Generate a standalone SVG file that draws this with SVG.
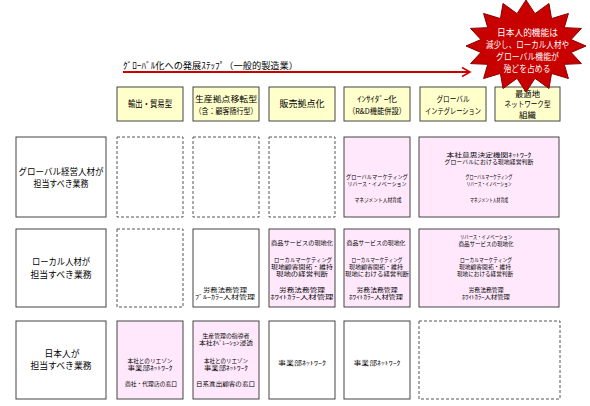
<svg xmlns="http://www.w3.org/2000/svg" width="590" height="406" viewBox="0 0 590 406">
<style>
text{font-family:"Noto Sans CJK JP","Noto Sans",sans-serif;fill:#000;text-anchor:middle}
.hd{fill:#ffffcc;stroke:#444;stroke-width:1}
.lb{fill:#fff;stroke:#444;stroke-width:1}
.so{fill:#fff;stroke:#444;stroke-width:1}
.pk{fill:#ffe8fc;stroke:#444;stroke-width:1}
.da{fill:#fff;stroke:#555;stroke-width:1;stroke-dasharray:3 2}
.h{font-size:9px}
.h2{font-size:8px}
.h6{font-size:8px}
.l{font-size:9px}
.c{font-size:5.5px}
.s{font-size:9px;fill:#fff}
</style>
<g id="connectors">
<text x="123" y="68.5" style="text-anchor:start;font-size:9px" textLength="175" lengthAdjust="spacingAndGlyphs">ｸﾞﾛｰﾊﾞﾙ化への発展ｽﾃｯﾌﾟ（一般的製造業）</text>
<line x1="123" y1="72" x2="469" y2="72" stroke="#cc0000" stroke-width="2"/>
<polyline points="462,67.5 470,72 462,76.5" fill="none" stroke="#cc0000" stroke-width="1.6"/>
</g>
<g id="h1"><rect class="hd" x="117" y="87" width="66" height="34"/><text class="h" x="150" y="107" textLength="44" lengthAdjust="spacingAndGlyphs">輸出・貿易型</text></g>
<g id="h2"><rect class="hd" x="193" y="87" width="66" height="34"/><text class="h2" x="226" y="102" textLength="62" lengthAdjust="spacingAndGlyphs">生産拠点移転型</text><text class="h2" x="226" y="113.5" textLength="63" lengthAdjust="spacingAndGlyphs">（含：顧客随行型）</text></g>
<g id="h3"><rect class="hd" x="269" y="87" width="66" height="34"/><text class="h" x="302" y="107" textLength="45" lengthAdjust="spacingAndGlyphs">販売拠点化</text></g>
<g id="h4"><rect class="hd" x="344" y="87" width="66" height="34"/><text class="h2" x="377" y="102" textLength="40" lengthAdjust="spacingAndGlyphs">ｲﾝｻｲﾀﾞｰ化</text><text class="h2" x="377" y="113.5" textLength="58" lengthAdjust="spacingAndGlyphs">（R&amp;D機能併設）</text></g>
<g id="h5"><rect class="hd" x="420" y="87" width="66" height="34"/><text class="h2" x="453" y="102" textLength="33" lengthAdjust="spacingAndGlyphs">グローバル</text><text class="h2" x="453" y="113.5" textLength="56" lengthAdjust="spacingAndGlyphs">インテグレーション</text></g>
<g id="h6"><rect class="hd" x="495" y="87" width="65" height="34"/><text class="h6" x="527.5" y="97" textLength="25" lengthAdjust="spacingAndGlyphs">最適地</text><text class="h6" x="527.5" y="107" textLength="46" lengthAdjust="spacingAndGlyphs">ネットワーク型</text><text class="h6" x="527.5" y="117.5" textLength="17" lengthAdjust="spacingAndGlyphs">組織</text></g>
<g id="star">
<polygon points="526,0 534.97,13.63 548.96,3.5 551.56,18.56 568.43,13.47 564.25,27.67 581.43,28.4 571.12,39.56 586,46 571.12,52.44 581.43,63.6 564.25,64.33 568.43,78.53 551.56,73.44 548.96,88.5 534.97,78.37 526,92 517.03,78.37 503.04,88.5 500.44,73.44 483.57,78.53 487.75,64.33 470.57,63.6 480.88,52.44 466,46 480.88,39.56 470.57,28.4 487.75,27.67 483.57,13.47 500.44,18.56 503.04,3.5 517.03,13.63" fill="#c80000" stroke="#8a0000" stroke-width="1"/>
<text class="s" x="527.5" y="36" textLength="61" lengthAdjust="spacingAndGlyphs">日本人的機能は</text>
<text class="s" x="527.5" y="48" textLength="83" lengthAdjust="spacingAndGlyphs">減少し、ローカル人材や</text>
<text class="s" x="527.5" y="60" textLength="63" lengthAdjust="spacingAndGlyphs">グローバル機能が</text>
<text class="s" x="527" y="72" textLength="47" lengthAdjust="spacingAndGlyphs">殆どを占める</text>
</g>
<g id="r1">
<rect class="lb" x="16" y="137" width="90" height="80"/>
<text class="l" x="61" y="175" textLength="85" lengthAdjust="spacingAndGlyphs">グローバル経営人材が</text>
<text class="l" x="61" y="186.5" textLength="55" lengthAdjust="spacingAndGlyphs">担当すべき業務</text>
</g>
<g id="r1c1"><rect class="da" x="117" y="137" width="66" height="80"/></g>
<g id="r1c2"><rect class="da" x="193" y="137" width="66" height="80"/></g>
<g id="r1c3"><rect class="da" x="269" y="137" width="66" height="80"/></g>
<g id="r1c4"><rect class="pk" x="344" y="137" width="66" height="80"/>
<text class="c" x="377" y="178.5" textLength="62" lengthAdjust="spacingAndGlyphs">グローバルマーケティング</text>
<text class="c" x="377" y="185.5" textLength="59" lengthAdjust="spacingAndGlyphs">リバース・イノベーション</text>
<text class="c" x="378" y="201.5" textLength="47" lengthAdjust="spacingAndGlyphs">マネジメント人材育成</text>
</g>
<g id="r1c5"><rect class="pk" x="419" y="137" width="140" height="80"/>
<text class="c" x="489" y="156.5" textLength="85" lengthAdjust="spacingAndGlyphs">本社意思決定機関ﾈｯﾄﾜｰｸ</text>
<text class="c" x="489" y="163.5" textLength="89" lengthAdjust="spacingAndGlyphs">グローバルにおける現地経営判断</text>
<text class="c" x="489" y="178.5" textLength="47" lengthAdjust="spacingAndGlyphs">グローバルマーケティング</text>
<text class="c" x="489" y="185.5" textLength="45" lengthAdjust="spacingAndGlyphs">リバース・イノベーション</text>
<text class="c" x="489" y="201.5" textLength="38" lengthAdjust="spacingAndGlyphs">マネジメント人材育成</text>
</g>
<g id="r2">
<rect class="lb" x="16" y="229" width="90" height="78"/>
<text class="l" x="61" y="265" textLength="58" lengthAdjust="spacingAndGlyphs">ローカル人材が</text>
<text class="l" x="61" y="277.5" textLength="61" lengthAdjust="spacingAndGlyphs">担当すべき業務</text>
</g>
<g id="r2c1"><rect class="da" x="117" y="229" width="66" height="78"/></g>
<g id="r2c2"><rect class="so" x="193" y="229" width="66" height="78"/>
<text class="c" x="225" y="291.5" textLength="44" lengthAdjust="spacingAndGlyphs">労務法務管理</text>
<text class="c" x="225" y="298.5" textLength="60" lengthAdjust="spacingAndGlyphs">ﾌﾞﾙｰｶﾗｰ人材管理</text>
</g>
<g id="r2c3"><rect class="pk" x="269" y="229" width="66" height="78"/>
<text class="c" x="302" y="244.5" textLength="62" lengthAdjust="spacingAndGlyphs">商品サービスの現地化</text>
<text class="c" x="303" y="262" textLength="58" lengthAdjust="spacingAndGlyphs">ローカルマーケティング</text>
<text class="c" x="302" y="269" textLength="62" lengthAdjust="spacingAndGlyphs">現地顧客開拓・維持</text>
<text class="c" x="302" y="276" textLength="52" lengthAdjust="spacingAndGlyphs">現地の経営判断</text>
<text class="c" x="302" y="291.5" textLength="46" lengthAdjust="spacingAndGlyphs">労務法務管理</text>
<text class="c" x="302" y="298.5" textLength="63" lengthAdjust="spacingAndGlyphs">ﾎﾜｲﾄｶﾗｰ人材管理</text>
</g>
<g id="r2c4"><rect class="pk" x="344" y="229" width="66" height="78"/>
<text class="c" x="376" y="244.5" textLength="59" lengthAdjust="spacingAndGlyphs">商品サービスの現地化</text>
<text class="c" x="377" y="261.5" textLength="51" lengthAdjust="spacingAndGlyphs">ローカルマーケティング</text>
<text class="c" x="376" y="268.5" textLength="54" lengthAdjust="spacingAndGlyphs">現地顧客開拓・維持</text>
<text class="c" x="377" y="275.5" textLength="64" lengthAdjust="spacingAndGlyphs">現地における経営判断</text>
<text class="c" x="377" y="291.5" textLength="41" lengthAdjust="spacingAndGlyphs">労務法務管理</text>
<text class="c" x="376" y="298.5" textLength="54" lengthAdjust="spacingAndGlyphs">ﾎﾜｲﾄｶﾗｰ人材管理</text>
</g>
<g id="r2c5"><rect class="pk" x="419" y="229" width="140" height="78"/>
<text class="c" x="486" y="239" textLength="52" lengthAdjust="spacingAndGlyphs">リバース・イノベーション</text>
<text class="c" x="486" y="245.5" textLength="55" lengthAdjust="spacingAndGlyphs">商品サービスの現地化</text>
<text class="c" x="486" y="261.5" textLength="52" lengthAdjust="spacingAndGlyphs">ローカルマーケティング</text>
<text class="c" x="485" y="268.5" textLength="52" lengthAdjust="spacingAndGlyphs">現地顧客開拓・維持</text>
<text class="c" x="485" y="275.5" textLength="56" lengthAdjust="spacingAndGlyphs">現地における経営判断</text>
<text class="c" x="486" y="291.5" textLength="35" lengthAdjust="spacingAndGlyphs">労務法務管理</text>
<text class="c" x="486" y="298.5" textLength="48" lengthAdjust="spacingAndGlyphs">ﾎﾜｲﾄｶﾗｰ人材管理</text>
</g>
<g id="r3">
<rect class="lb" x="16" y="321" width="90" height="78"/>
<text class="l" x="62" y="357" textLength="35" lengthAdjust="spacingAndGlyphs">日本人が</text>
<text class="l" x="61" y="369" textLength="61" lengthAdjust="spacingAndGlyphs">担当すべき業務</text>
</g>
<g id="r3c1"><rect class="pk" x="117" y="321" width="66" height="78"/>
<text class="c" x="150" y="362.5" textLength="45" lengthAdjust="spacingAndGlyphs">本社とのリエゾン</text>
<text class="c" x="150" y="369.5" textLength="45" lengthAdjust="spacingAndGlyphs">事業部ﾈｯﾄﾜｰｸ</text>
<text class="c" x="151" y="385.5" textLength="52" lengthAdjust="spacingAndGlyphs">商社・代理店の窓口</text>
</g>
<g id="r3c2"><rect class="pk" x="193" y="321" width="66" height="78"/>
<text class="c" x="226" y="337.5" textLength="47" lengthAdjust="spacingAndGlyphs">生産管理の指導者</text>
<text class="c" x="226" y="344.5" textLength="54" lengthAdjust="spacingAndGlyphs">本社ｵﾍﾟﾚｰｼｮﾝ浸透</text>
<text class="c" x="226" y="362.5" textLength="44" lengthAdjust="spacingAndGlyphs">本社とのリエゾン</text>
<text class="c" x="226" y="369.5" textLength="44" lengthAdjust="spacingAndGlyphs">事業部ﾈｯﾄﾜｰｸ</text>
<text class="c" x="225.5" y="385.5" textLength="59" lengthAdjust="spacingAndGlyphs">日系進出顧客の窓口</text>
</g>
<g id="r3c3"><rect class="so" x="269" y="321" width="66" height="78"/>
<text class="c" x="302" y="365" textLength="48" lengthAdjust="spacingAndGlyphs">事業部ﾈｯﾄﾜｰｸ</text>
</g>
<g id="r3c4"><rect class="so" x="344" y="321" width="66" height="78"/>
<text class="c" x="377" y="365" textLength="47" lengthAdjust="spacingAndGlyphs">事業部ﾈｯﾄﾜｰｸ</text>
</g>
<g id="r3c5"><rect class="da" x="419" y="321" width="141" height="78"/></g>
</svg>
